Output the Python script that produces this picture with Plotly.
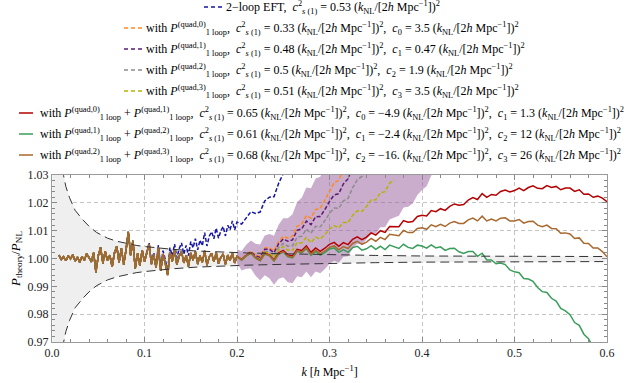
import numpy as np
import plotly.graph_objects as go

# k grid [h/Mpc]: 0.0025 steps up to 0.2, 0.005 steps above
k = np.r_[np.arange(0.0075, 0.20001, 0.0025), np.arange(0.205, 0.60001, 0.005)].round(4)

# scatter of the measured P_NL about its smooth trend, in units of 1e-4 (common to all curves)
scatter = [12, -4, 6, -8, 10, -2, 14, -10, 5, -14,
           8, -6, 18, 2, -12, 22, -50, 10, 40, -18,
           26, -8, 12, -30, 20, 44, -14, 36, -22, 30,
           96, 12, 64, -36, 18, -26, 30, -12, 24, 52,
           -20, 14, -34, 38, -44, 16, -18, -60, 22, -10,
           30, -22, 8, 26, -16, 12, -28, 20, -6, 24,
           -20, 10, -14, 28, -24, 6, 18, -12, 22, -18,
           4, 16, -22, 12, -8, 20, -16, 8,
           -8, 6, 15, -4, -14, 9, 2, -18, 5, 12,
           -6, -12, 10, 3, 17, -9, 4, -11, -3, 8,
           11, -7, 2, -9, 6, 10, -5, -1, 8, -6,
           4, -8, 7, 1, -6, 9, -3, -7, 5, 3,
           -5, 8, -2, 4, -7, 2, 6, -4, -6, 5,
           9, -3, 13, -5, 1, -6, 4, 6, -4, -2,
           5, -6, 3, 7, -3, -5, 6, -1, 4, -6,
           2, 5, -4, 6, -5, 1, -6, 4, 3, -4]

# smooth P_theory/P_NL - 1 of each model, units of 1e-4, from its first k on
blue_k0 = 0.1
blue_dev = [3, 4, 5, 6, 7, 8, 10, 11, 12, 14, 15, 17, 19, 22, 24, 27, 30, 32, 35, 38,
            41, 44, 47, 51, 56, 60, 65, 69, 74, 78, 83, 87, 91, 95, 99, 103, 107, 111, 115, 119,
            123, 132, 142, 153, 166, 181, 198, 218, 240, 265, 293, 325]
orange_k0 = 0.205
orange_dev = [4, 7, 11, 16, 22, 29, 37, 46, 56, 67, 79, 92, 106, 121, 137, 154, 172, 192, 213, 236,
              261, 288, 317]
purple_k0 = 0.205
purple_dev = [3, 6, 9, 13, 18, 24, 31, 39, 48, 58, 68, 79, 91, 104, 117, 131, 146, 162, 179, 197,
              217, 240, 266, 295, 325]
gray_k0 = 0.205
gray_dev = [2, 4, 6, 9, 13, 17, 22, 28, 35, 42, 50, 58, 67, 77, 88, 100, 112, 125, 139, 154,
            170, 187, 205, 225, 248, 273, 300, 330]
yellow_k0 = 0.205
yellow_dev = [2, 3, 5, 7, 10, 13, 17, 21, 26, 31, 36, 41, 47, 53, 59, 66, 73, 81, 89, 98,
              107, 117, 127, 138, 149, 161, 174, 188, 202, 217, 232, 248, 264, 280]
red_k0 = 0.205
red_dev = [4, 5, 6, 7, 8, 10, 11, 13, 15, 17, 19, 21, 23, 26, 28, 31, 34, 37, 40, 43,
           47, 51, 55, 59, 63, 68, 73, 78, 84, 90, 96, 102, 108, 114, 120, 127, 133, 140, 146, 152,
           158, 164, 170, 175, 180, 185, 190, 195, 200, 205, 210, 215, 220, 225, 229, 233, 237, 240, 243, 246,
           248, 250, 252, 254, 255, 256, 256, 256, 255, 253, 251, 248, 245, 241, 236, 231, 226, 220, 214, 208]
green_k0 = 0.205
green_dev = [2, 3, 4, 5, 6, 7, 8, 9, 10, 11, 12, 14, 15, 17, 18, 20, 21, 23, 24, 26,
             27, 29, 30, 31, 33, 34, 35, 36, 38, 39, 40, 40, 41, 42, 42, 42, 43, 43, 43, 42,
             42, 41, 40, 38, 36, 34, 31, 28, 24, 20, 16, 11, 6, 0, -6, -13, -20, -28, -37, -46,
             -56, -66, -77, -89, -101, -114, -128, -142, -157, -173, -190, -207, -226, -246, -267, -289, -312]
brown_k0 = 0.205
brown_dev = [3, 4, 5, 6, 7, 8, 9, 10, 12, 13, 15, 16, 18, 20, 22, 24, 26, 28, 30, 32,
             35, 38, 41, 45, 48, 52, 56, 60, 64, 68, 72, 76, 80, 84, 88, 92, 96, 100, 103, 107,
             110, 113, 116, 119, 122, 125, 127, 130, 132, 134, 136, 138, 139, 140, 141, 141, 141, 140, 139, 137,
             135, 133, 130, 127, 123, 119, 114, 109, 103, 97, 90, 83, 76, 68, 60, 53, 44, 34, 22, 10]

# theory-error band of the quad,1 fit, units of 1e-4
band_k0 = 0.2
band_lo = [-25, -35, -43, -51, -58, -64, -69, -73, -76, -78, -79, -79, -77, -74, -70, -64, -58, -51, -42, -35,
           -27, -19, -8, 4, 17, 30, 43, 56, 69, 82, 95, 108, 120, 133, 146, 160, 174, 189, 205, 223,
           243, 265, 290, 318]
band_hi = [25, 35, 43, 50, 57, 64, 74, 86, 100, 116, 133, 151, 171, 193, 215, 238, 261, 283, 305, 330,
           355, 380, 405, 430, 455, 480, 505, 530, 555, 580, 605, 630, 655, 680, 705, 730, 755, 780, 805, 830,
           855, 880, 905, 930]

# sample variance of the simulation
cv_k = [0.0005, 0.003, 0.006, 0.008, 0.010, 0.0125, 0.015, 0.019, 0.025, 0.0336, 0.040, 0.048, 0.060,
        0.070, 0.080, 0.091, 0.100, 0.117, 0.130, 0.156, 0.180, 0.210, 0.250, 0.300, 0.350, 0.400, 0.500, 0.600]
cv_hi = [1.5, 1.1198, 1.0598, 1.0448, 1.0358, 1.0298, 1.0258, 1.0218, 1.0173, 1.0138, 1.0116, 1.0094, 1.0073,
         1.0062, 1.0054, 1.0047, 1.0043, 1.0037, 1.0033, 1.0027, 1.0023, 1.0020, 1.0017, 1.0013, 1.0011, 1.0009,
         1.0008, 1.0007]
cv_lo = [0.5, 0.8798, 0.9398, 0.9548, 0.9638, 0.9698, 0.9738, 0.9778, 0.9823, 0.9858, 0.9880, 0.9902, 0.9923,
         0.9934, 0.9942, 0.9949, 0.9953, 0.9959, 0.9963, 0.9969, 0.9973, 0.9976, 0.9979, 0.9983, 0.9985, 0.9987,
         0.9988, 0.9989]

unit = "(<i>k</i><sub>NL</sub>/[2<i>h</i> Mpc<sup>−1</sup>])<sup>2</sup>"
cs = "<i>c</i><sup>2</sup><sub><i>s</i> (1)</sub>"


def P(n):
    return f"<i>P</i><sup>(quad,{n})</sup><sub>1 loop</sub>"


def curve(k0, dev):
    i0 = int(np.argmin(np.abs(k - k0)))
    d = np.r_[np.zeros(i0), dev]
    n = len(d)
    return k[:n], 1 + (d + np.array(scatter[:n])) * 1e-4


series = [
    ("#1414a8", "dash", blue_k0, blue_dev, 0, 204,
     f"2−loop EFT,  {cs} = 0.53 {unit}"),
    ("#ff8a1c", "dash", orange_k0, orange_dev, 1, 124,
     f"with {P(0)},  {cs} = 0.33 {unit},  <i>c</i><sub>0</sub> = 3.5 {unit}"),
    ("#5e1a72", "dash", purple_k0, purple_dev, 2, 124,
     f"with {P(1)},  {cs} = 0.48 {unit},  <i>c</i><sub>1</sub> = 0.47 {unit}"),
    ("#8c8c8c", "dash", gray_k0, gray_dev, 3, 124,
     f"with {P(2)},  {cs} = 0.5 {unit},  <i>c</i><sub>2</sub> = 1.9 {unit}"),
    ("#b4b400", "dash", yellow_k0, yellow_dev, 4, 124,
     f"with {P(3)},  {cs} = 0.51 {unit},  <i>c</i><sub>3</sub> = 3.5 {unit}"),
    ("#b30000", "solid", red_k0, red_dev, 5, 19,
     f"with {P(0)} + {P(1)},  {cs} = 0.65 {unit},  <i>c</i><sub>0</sub> = −4.9 {unit},  <i>c</i><sub>1</sub> = 1.3 {unit}"),
    ("#3a9e5a", "solid", green_k0, green_dev, 6, 19,
     f"with {P(1)} + {P(2)},  {cs} = 0.61 {unit},  <i>c</i><sub>1</sub> = −2.4 {unit},  <i>c</i><sub>2</sub> = 12 {unit}"),
    ("#a8682e", "solid", brown_k0, brown_dev, 7, 19,
     f"with {P(2)} + {P(3)},  {cs} = 0.68 {unit},  <i>c</i><sub>2</sub> = −16. {unit},  <i>c</i><sub>3</sub> = 26 {unit}"),
]

row_y = [7, 28, 49, 70, 91, 113, 134, 155]
L, R, T, B, W, H = 52, 25, 175, 41, 632, 383
pw, ph = W - L - R, H - T - B


def xp(px):
    return (px - L) / pw


def yp(py):
    return (H - B - py) / ph


fig = go.Figure()

# sample variance band
fig.add_trace(go.Scatter(x=cv_k, y=cv_lo, mode="lines", line=dict(width=0), hoverinfo="skip"))
fig.add_trace(go.Scatter(x=cv_k, y=cv_hi, mode="lines", line=dict(width=0), fill="tonexty",
                         fillcolor="#efefef", hoverinfo="skip"))

# theory error band (edges carry the same N-body scatter)
i_b = int(np.argmin(np.abs(k - band_k0)))
kb = k[i_b:i_b + len(band_lo)]
sb = np.array(scatter[i_b:i_b + len(band_lo)])
fig.add_trace(go.Scatter(x=kb, y=1 + (np.array(band_lo) + sb) * 1e-4, mode="lines", line=dict(width=0),
                         hoverinfo="skip"))
fig.add_trace(go.Scatter(x=kb, y=1 + (np.array(band_hi) + sb) * 1e-4, mode="lines", line=dict(width=0),
                         fill="tonexty", fillcolor="rgba(150,90,155,0.5)", hoverinfo="skip"))

for color, dash, k0, dev, row, sx, label in series:
    kk, rr = curve(k0, dev)
    fig.add_trace(go.Scatter(x=kk, y=rr, mode="lines",
                             line=dict(color=color, width=1.5, dash="4px,2px" if dash == "dash" else "solid")))
    fig.add_shape(type="line", xref="paper", yref="paper", x0=xp(sx), x1=xp(sx + 18 if dash == "dash" else sx + 14),
                  y0=yp(row_y[row]), y1=yp(row_y[row]),
                  line=dict(color=color, width=1.5, dash="4px,3px" if dash == "dash" else "solid"))
    fig.add_annotation(text=label, xref="paper", yref="paper", x=xp(sx + (20 if dash == "dash" else 19)),
                       y=yp(row_y[row]), xanchor="left", yanchor="middle", showarrow=False,
                       font=dict(family="Liberation Serif", size=12, color="black"))

# band edges drawn on top
for yy in (cv_lo, cv_hi):
    fig.add_trace(go.Scatter(x=cv_k, y=yy, mode="lines", line=dict(color="#333333", width=1, dash="9px,5px"),
                             hoverinfo="skip"))

axis = dict(ticks="inside", ticklen=5, tickcolor="#888888", showline=True, linecolor="#9a9a9a", linewidth=1,
            mirror="allticks", showgrid=True, gridcolor="#c4c4c4", griddash="4px,3px", zeroline=False,
            automargin=False, tickfont=dict(family="Liberation Serif", size=12, color="#222222"))

fig.update_layout(
    width=W, height=H, margin=dict(l=L, r=R, t=T, b=B),
    plot_bgcolor="white", paper_bgcolor="white", showlegend=False,
    xaxis=dict(axis, range=[0, 0.6], dtick=0.1, tickformat=".1f",
               minor=dict(dtick=0.02, ticks="inside", ticklen=3, tickcolor="#888888", showgrid=False),
               title=dict(text="<i>k</i> [<i>h</i> Mpc<sup>−1</sup>]", standoff=8,
                          font=dict(family="Liberation Serif", size=12, color="black"))),
    yaxis=dict(axis, range=[0.97, 1.03], tick0=0.97, dtick=0.01, tickformat=".2f",
               minor=dict(dtick=0.002, ticks="inside", ticklen=3, tickcolor="#888888", showgrid=False),
               title=dict(text="<i>P</i><sub>theory</sub>/<i>P</i><sub>NL</sub>", standoff=4,
                          font=dict(family="Liberation Serif", size=13, color="black"))),
)

# the page's default body margin would shift the figure by 8px
fig.write_html("out.html", config={"displayModeBar": False},
               post_script="document.body.style.margin='0';")
